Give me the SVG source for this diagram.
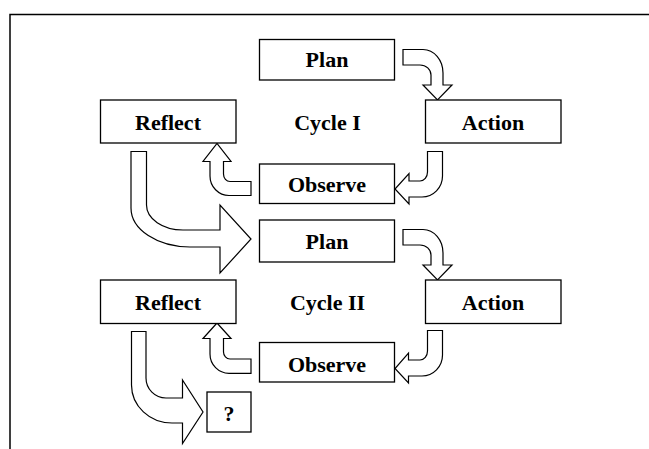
<svg xmlns="http://www.w3.org/2000/svg" width="649" height="449" viewBox="0 0 649 449">
<style>
.box{fill:#fff;stroke:#000;stroke-width:1.3}
.lbl{font-family:"Liberation Serif","Times New Roman",serif;font-weight:bold;font-size:22px;fill:#000;text-anchor:middle}
.arr{fill:#fff;stroke:#000;stroke-width:1.2;stroke-linejoin:miter}
.frame{fill:none;stroke:#000;stroke-width:1.5}
</style>
<rect width="649" height="449" fill="#fff"/>
<path class="frame" d="M10,449 V14.5 H649"/>
<g id="connectors">
<path class="arr" d="M403,49.5 H423 A20,23.5 0 0 1 443,73 V85 H452 L437.5,100 L423,85 H431 V75 A11,10 0 0 0 420,65 H403 Z"/>
<path class="arr" d="M427.5,151.5 H442.5 V176 A20.5,21 0 0 1 422,197 H409 V204 L395,189 L409,173.5 V181 H420 A7.5,9 0 0 0 427.5,172 Z"/>
<path class="arr" d="M251,181.5 V195.5 H229 A19,19.5 0 0 1 210,176 V161.5 H203 L217,143.5 L231,161.5 H223.5 V174 A6.5,7.5 0 0 0 230,181.5 Z"/>
<path class="arr" d="M131,151.5 H146.5 V205 A36.5,25 0 0 0 183,230 H220 V205 L251,239 L220,273 V247 H190 A59,39 0 0 1 131,208 Z"/>
<path class="arr" d="M403,229.5 H423 A20,23.5 0 0 1 443,253 V265 H452 L437.5,280 L423,265 H431 V255 A11,10 0 0 0 420,245 H403 Z"/>
<path class="arr" d="M427.5,330.5 H442.5 V355 A20.5,21 0 0 1 422,376 H408.5 V383 L395,368.5 L408.5,353 V360 H420 A7.5,9 0 0 0 427.5,351 Z"/>
<path class="arr" d="M251,359 V373.3 H229 A19,19.3 0 0 1 210,354 V338.5 H203 L217,323 L231,338.5 H223.5 V352 A6.5,7 0 0 0 230,359 Z"/>
<path class="arr" d="M131.5,331.5 H146 V378 A20,20 0 0 0 166,398 H182.5 V380 L203,412 L182.5,443.5 V423 H172 A40.5,38 0 0 1 131.5,385 Z"/>
</g>
<g id="plan1"><rect class="box" x="259.5" y="39.5" width="135" height="40.5"/><text class="lbl" x="327" y="67">Plan</text></g>
<g id="reflect1"><rect class="box" x="100.5" y="100" width="135.5" height="43"/><text class="lbl" x="168" y="129.5">Reflect</text></g>
<g id="cycle1"><text class="lbl" x="327.5" y="129.5">Cycle I</text></g>
<g id="action1"><rect class="box" x="425.5" y="100" width="135.5" height="43"/><text class="lbl" x="493" y="129.5">Action</text></g>
<g id="observe1"><rect class="box" x="259.5" y="164" width="135" height="39.5"/><text class="lbl" x="327" y="192">Observe</text></g>
<g id="plan2"><rect class="box" x="259.5" y="220" width="135" height="42"/><text class="lbl" x="327" y="249">Plan</text></g>
<g id="reflect2"><rect class="box" x="100.5" y="280" width="135.5" height="43.5"/><text class="lbl" x="168" y="309.5">Reflect</text></g>
<g id="cycle2"><text class="lbl" x="327.5" y="309.5">Cycle II</text></g>
<g id="action2"><rect class="box" x="425.5" y="280" width="135.5" height="43.5"/><text class="lbl" x="493" y="309.5">Action</text></g>
<g id="observe2"><rect class="box" x="259.5" y="342.5" width="135" height="39.5"/><text class="lbl" x="327" y="371.5">Observe</text></g>
<g id="question"><rect class="box" x="207" y="392" width="44" height="40"/><text class="lbl" x="229" y="420.5">?</text></g>
</svg>
